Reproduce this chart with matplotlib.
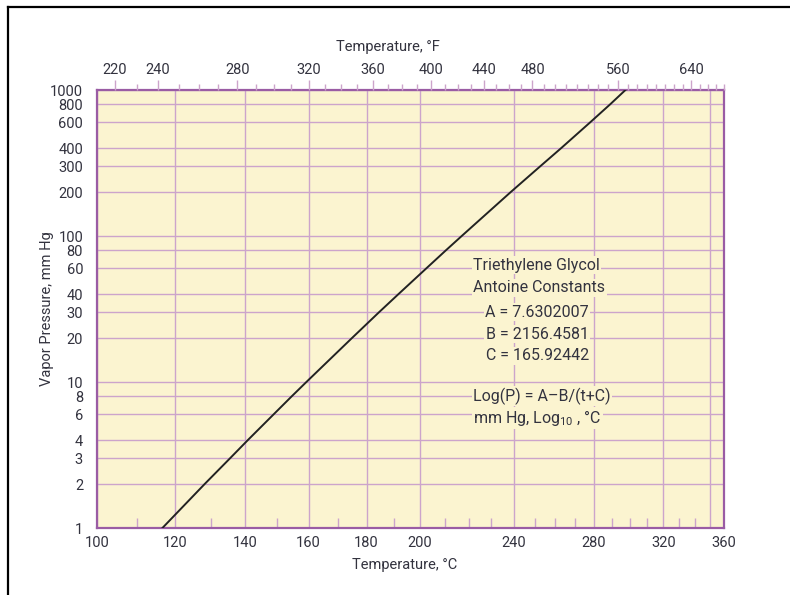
import numpy as np
import matplotlib
matplotlib.use("Agg")
import matplotlib.pyplot as plt
from matplotlib.lines import Line2D

plt.rcParams['font.family'] = ['Roboto', 'DejaVu Sans']
plt.rcParams['mathtext.fontset'] = 'custom'
plt.rcParams['mathtext.rm'] = 'Roboto'
plt.rcParams['mathtext.default'] = 'regular'

# wartosci (cisnienie w mm Hg, temperatura w C)
pressure_mmhg = [1, 2, 3, 4, 6, 8, 10, 20, 30, 40, 60, 80, 100,
                 200, 300, 400, 600, 800, 1000]
temp_c = [116.7, 128.3, 135.6, 140.9, 148.8, 154.6, 159.3, 174.8, 184.5,
          191.8, 202.6, 210.6, 217.1, 238.7, 252.6, 263.0, 278.0, 289.0,
          297.5]

# opisy osi
c_labels = [100, 120, 140, 160, 180, 200, 240, 280, 320, 360]
c_grid_extra = [350]
c_minor = [110, 130, 150, 170, 190, 210, 220, 230, 250, 260, 270,
           290, 300, 310, 330, 340]
f_major = [220, 240, 280, 320, 360, 400, 440, 480, 560, 640]
f_minor = [230, 250, 260, 270, 290, 300, 310, 330, 340, 350, 370, 380, 390,
           410, 420, 430, 450, 460, 470, 490, 500, 510, 520, 530, 540, 550,
           570, 580, 590, 600, 610, 620, 630, 650, 660, 670, 680]
p_ticks = [1, 2, 3, 4, 6, 8, 10, 20, 30, 40, 60, 80, 100, 200, 300, 400,
           600, 800, 1000]

note_lines = ["Triethylene Glycol", "Antoine Constants"]
const_lines = ["A = 7.6302007", "B = 2156.4581", "C = 165.92442"]
eq_lines = ["Log(P) = A\u2013B/(t+C)", "mm Hg, Log$_{10}$ , \u00b0C"]

fill_c = '#FBF4D0'
frame_c = '#9A5CA4'
grid_c = '#CCA4CB'
text_c = '#33333F'


def fwd(t):
    # skala 1/T (K)
    with np.errstate(divide='ignore'):
        return -1.0 / (np.asarray(t, dtype=float) + 273.15)


def inv(u):
    with np.errstate(divide='ignore'):
        return -1.0 / np.asarray(u, dtype=float) - 273.15


def f2c(f):
    return (np.asarray(f, dtype=float) - 32.0) * 5.0 / 9.0


fig = plt.figure(figsize=(7.9, 5.95), dpi=100)
ax = fig.add_axes([97 / 790, 67 / 595, 627 / 790, 438 / 595])

ax.set_xscale('function', functions=(fwd, inv))
ax.set_yscale('log')
ax.set_xlim(100, 360)
ax.set_ylim(1, 1000)
ax.set_facecolor(fill_c)
ax.set_axisbelow(True)

ax.plot(temp_c, pressure_mmhg, color='#222222', lw=1.4, zorder=3)

# os dolna
ax.set_xticks(c_labels + c_grid_extra)
ax.set_xticklabels([str(v) for v in c_labels] + [''] * len(c_grid_extra))
ax.set_xticks(c_minor, minor=True)
ax.tick_params(axis='x', which='major', length=0, pad=6, labelsize=10.5,
               labelcolor=text_c)
ax.tick_params(axis='x', which='minor', direction='in', length=7,
               width=1.0, color=grid_c)

# os pionowa
ax.set_yticks(p_ticks)
ax.set_yticklabels([str(v) for v in p_ticks])
ax.yaxis.set_minor_locator(plt.NullLocator())
ax.tick_params(axis='y', which='major', length=0, pad=10, labelsize=10.5,
               labelcolor=text_c)

ax.grid(True, which='major', color=grid_c, lw=1.0)
for s in ax.spines.values():
    s.set_color(frame_c)
    s.set_linewidth(1.6)

ax.set_xlabel('Temperature, \u00b0C', fontsize=10.5, color=text_c)
ax.xaxis.set_label_coords(0.49, -0.068)
ax.set_ylabel('Vapor Pressure, mm Hg', fontsize=10.5, color=text_c,
              labelpad=-3)

# os gorna w Fahrenheitach
ax2 = ax.twiny()
ax2.set_xscale('function', functions=(fwd, inv))
ax2.set_xlim(ax.get_xlim())
ax2.set_xticks(f2c(f_major))
ax2.set_xticklabels([str(v) for v in f_major])
ax2.set_xticks(f2c(f_minor), minor=True)
ax2.tick_params(axis='x', which='major', direction='out', length=7.5,
                width=1.0, color=grid_c, pad=2, labelsize=10.5,
                labelcolor=text_c)
ax2.tick_params(axis='x', which='minor', direction='out', length=4.5,
                width=1.0, color=grid_c)
for s in ax2.spines.values():
    s.set_visible(False)
ax2.set_xlabel('Temperature, \u00b0F', fontsize=10.5, color=text_c)
ax2.xaxis.set_label_coords(0.464, 1.09)

# opis stalych Antoine'a
box = dict(facecolor=fill_c, edgecolor='none', pad=1.0)
ys = [0.600, 0.548]
for txt, y in zip(note_lines, ys):
    ax.text(0.600, y, txt, transform=ax.transAxes, ha='left', va='center',
            fontsize=11.5, color=text_c, bbox=box, zorder=4)
ys = [0.493, 0.442, 0.393]
for txt, y in zip(const_lines, ys):
    ax.text(0.702, y, txt, transform=ax.transAxes, ha='center', va='center',
            fontsize=11.5, color=text_c, bbox=box, zorder=4)
ys = [0.301, 0.251]
for txt, y in zip(eq_lines, ys):
    ax.text(0.600, y, txt, transform=ax.transAxes, ha='left', va='center',
            fontsize=11.5, color=text_c, bbox=box, zorder=4)

# ramka obrazka
fig.add_artist(Line2D([8 / 790, 8 / 790], [0, 588 / 595],
                      transform=fig.transFigure, color='black', lw=1.6))
fig.add_artist(Line2D([8 / 790, 1], [588 / 595, 588 / 595],
                      transform=fig.transFigure, color='black', lw=1.6))

fig.savefig('out.png', dpi=100)
